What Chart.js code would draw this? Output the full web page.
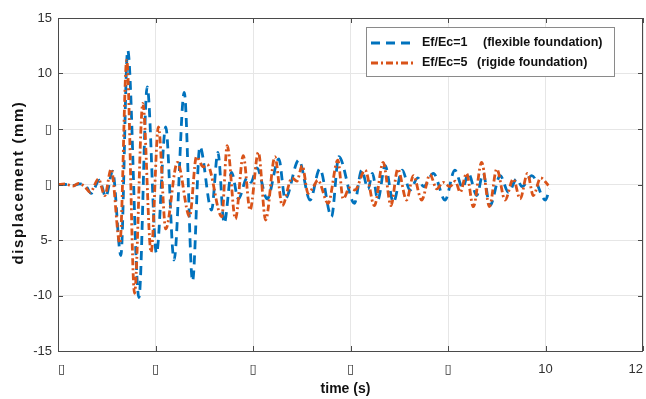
<!DOCTYPE html>
<html>
<head>
<meta charset="utf-8">
<script src="https://cdn.jsdelivr.net/npm/chart.js@4.4.1/dist/chart.umd.min.js"></script>
<style>
html,body{margin:0;padding:0;background:#fff;}
#wrap{width:646px;height:399px;}
</style>
</head>
<body>
<div id="wrap"><canvas id="c" width="646" height="399"></canvas></div>
<script>
// ---- data ----
const seriesNames = ['Ef/Ec=1', 'Ef/Ec=5'];
const seriesNotes = ['(flexible foundation)', '(rigide foundation)'];

// Ef/Ec=1 (flexible foundation): time (s) and displacement (mm)
const flexT = [0, 0.15, 0.30, 0.45, 0.58, 0.68, 0.85, 0.98, 1.12, 1.29, 1.43, 1.66, 1.83, 2.02, 2.21, 2.38, 2.59, 2.76, 2.91, 3.15, 3.28, 3.41, 3.56, 3.70, 3.88, 3.96, 4.08, 4.29, 4.53, 4.66, 4.94, 5.17, 5.37, 5.61, 5.76, 6.08, 6.23, 6.36, 6.45, 6.56, 6.71, 6.88, 7.06, 7.22, 7.38, 7.50, 7.70, 7.94, 8.14, 8.30, 8.42, 8.59, 8.72, 8.86, 9.07, 9.24, 9.41, 9.52, 9.72, 10.00, 10.08];
const flexY = [0, 0.0, -0.1, 0.05, -0.2, -0.8, 0.4, -1.1, 1.2, -6.4, 12.1, -10.2, 8.8, -6.2, 5.2, -6.8, 8.3, -8.7, 3.4, -2.3, 2.9, -3.5, 1.1, -1.3, 0.6, 0.2, 1.5, -1.3, 2.3, -1.3, 2.2, -1.4, 1.4, -2.9, 2.5, -1.7, 1.3, -0.4, 1.0, -1.4, 1.7, -1.6, 1.3, -0.5, 0.6, -0.2, 1.0, -1.4, 1.3, -0.3, 1.0, -1.0, 1.0, -1.9, 0.8, -0.7, 0.5, -0.2, 0.8, -1.4, -0.4];

// Ef/Ec=5 (rigide foundation)
const rigidT = [0, 0.15, 0.30, 0.42, 0.55, 0.66, 0.83, 0.96, 1.09, 1.27, 1.41, 1.57, 1.74, 1.91, 2.06, 2.21, 2.45, 2.70, 2.84, 2.98, 3.06, 3.36, 3.47, 3.64, 3.80, 3.94, 4.11, 4.26, 4.45, 4.60, 4.80, 4.90, 5.01, 5.13, 5.24, 5.33, 5.54, 5.74, 5.85, 5.98, 6.09, 6.30, 6.49, 6.67, 6.83, 6.97, 7.15, 7.29, 7.46, 7.63, 7.77, 7.90, 8.04, 8.15, 8.25, 8.38, 8.52, 8.69, 8.85, 9.00, 9.17, 9.34, 9.48, 9.63, 9.75, 9.90, 10.06];
const rigidY = [0, 0.05, -0.15, 0.1, -0.2, -0.7, 0.5, -1.0, 1.4, -5.3, 11.2, -9.8, 7.3, -6.1, 5.2, -4.0, 2.0, -2.9, 2.5, 1.6, 1.8, -2.9, 3.5, -3.1, 2.6, -2.3, 2.9, -3.2, 2.5, -1.9, 0.6, 0.3, 1.7, -0.8, -0.2, 0.4, -1.7, 2.2, -1.3, -0.3, -0.5, 1.3, -1.9, 2.0, -1.9, 1.4, -1.4, 0.8, -1.4, 0.9, -0.4, 0.2, -0.2, 0.3, -0.7, 1.0, -2.0, 2.0, -2.0, 1.4, -1.4, 0.5, -1.3, 1.0, -1.0, 0.6, -0.1];

// tick labels (as printed in the reference, missing glyphs shown as boxes)
const xTickValues = [0, 2, 4, 6, 8, 10, 12];
const xTickText = ['\u25AF', '\u25AF', '\u25AF', '\u25AF', '\u25AF', '10', '12'];
const yTickValues = [-15, -10, -5, 0, 5, 10, 15];
const yTickText = ['-15', '-10', '5-', '\u25AF', '\u25AF', '10', '15'];

const xTitle = 'time (s)';
const yTitle = 'displacement (mm)';

// ---- chart ----
const FONT = '"Liberation Sans", Arial, "DejaVu Sans", sans-serif';
const toPts = (t, v) => t.map((tt, i) => ({x: tt, y: v[i]}));

const decor = {
  id: 'decor',
  afterDraw(chart) {
    const {ctx, chartArea: a, scales} = chart;
    const xs = scales.x, ys = scales.y;
    ctx.save();
    // box
    ctx.strokeStyle = '#4a4a4a';
    ctx.lineWidth = 1;
    ctx.strokeRect(Math.round(a.left) + 0.5, Math.round(a.top) + 0.5,
                   Math.round(a.right - a.left) - 1, Math.round(a.bottom - a.top));
    // inward ticks
    ctx.beginPath();
    xTickValues.forEach(v => {
      const px = Math.round(xs.getPixelForValue(v)) + 0.5;
      ctx.moveTo(px, a.bottom); ctx.lineTo(px, a.bottom - 5);
      ctx.moveTo(px, a.top); ctx.lineTo(px, a.top + 5);
    });
    yTickValues.forEach(v => {
      const py = Math.round(ys.getPixelForValue(v)) + 0.5;
      ctx.moveTo(a.left, py); ctx.lineTo(a.left + 5, py);
      ctx.moveTo(a.right, py); ctx.lineTo(a.right - 5, py);
    });
    ctx.stroke();

    // axis titles
    ctx.fillStyle = '#111';
    ctx.font = 'bold 14px ' + FONT;
    ctx.textAlign = 'center';
    ctx.textBaseline = 'middle';
    ctx.fillText(xTitle, (a.left + a.right) / 2 - 5, 389);
    ctx.save();
    ctx.translate(19, (a.top + a.bottom) / 2 - 2);
    ctx.rotate(-Math.PI / 2);
    ctx.font = 'bold 15px ' + FONT;
    try { ctx.letterSpacing = '1.6px'; } catch (e) {}
    ctx.fillText(yTitle, 0, 0);
    ctx.restore();

    // legend
    const lx = 366, ly = 27, lw = 248, lh = 49;
    ctx.fillStyle = '#fff';
    ctx.fillRect(lx, ly, lw, lh);
    ctx.strokeStyle = '#8a8a8a';
    ctx.lineWidth = 1;
    ctx.strokeRect(lx + 0.5, ly + 0.5, lw, lh);
    const rows = [43, 63];
    const noteX = [483, 477];
    chart.data.datasets.forEach((ds, i) => {
      const yy = rows[i];
      ctx.save();
      ctx.strokeStyle = ds.borderColor;
      ctx.lineWidth = ds.borderWidth;
      ctx.setLineDash(ds.borderDash);
      ctx.beginPath();
      ctx.moveTo(371, yy); ctx.lineTo(414, yy);
      ctx.stroke();
      ctx.restore();
      ctx.fillStyle = '#111';
      ctx.font = 'bold 12.5px ' + FONT;
      ctx.textAlign = 'left';
      ctx.textBaseline = 'middle';
      ctx.fillText(seriesNames[i], 422, yy);
      ctx.fillText(seriesNotes[i], noteX[i], yy);
    });
    ctx.restore();
  }
};

new Chart(document.getElementById('c'), {
  type: 'line',
  data: {
    datasets: [
      {
        label: seriesNames[0] + ' ' + seriesNotes[0],
        data: toPts(flexT, flexY),
        borderColor: '#0072BD',
        borderWidth: 2.8,
        borderDash: [9, 6],
        pointRadius: 0,
        cubicInterpolationMode: 'monotone',
        fill: false,
        order: 2
      },
      {
        label: seriesNames[1] + ' ' + seriesNotes[1],
        data: toPts(rigidT, rigidY),
        borderColor: '#D95319',
        borderWidth: 2.8,
        borderDash: [7, 3, 2, 3],
        pointRadius: 0,
        cubicInterpolationMode: 'monotone',
        fill: false,
        order: 1
      }
    ]
  },
  options: {
    responsive: false,
    animation: false,
    devicePixelRatio: 1,
    layout: {padding: {left: 0, right: 3, top: 18, bottom: 0}},
    plugins: {legend: {display: false}, tooltip: {enabled: false}},
    scales: {
      x: {
        type: 'linear',
        min: 0, max: 12,
        afterBuildTicks: s => { s.ticks = xTickValues.map(v => ({value: v})); },
        afterFit: s => { s.height = 48; s.paddingLeft = 0; s.paddingRight = 0; },
        grid: {color: '#e6e6e6', drawTicks: false, lineWidth: 1},
        border: {display: false},
        ticks: {
          align: 'inner',
          padding: 11,
          color: '#303030',
          font: {family: FONT, size: 13},
          callback: v => xTickText[xTickValues.indexOf(v)],
          maxRotation: 0, autoSkip: false
        }
      },
      y: {
        type: 'linear',
        min: -15, max: 15,
        afterBuildTicks: s => { s.ticks = yTickValues.map(v => ({value: v})); },
        afterFit: s => { s.width = 58; s.paddingTop = 0; s.paddingBottom = 0; },
        grid: {color: '#e6e6e6', drawTicks: false, lineWidth: 1},
        border: {display: false},
        ticks: {
          padding: 6,
          color: '#303030',
          font: {family: FONT, size: 13},
          callback: v => yTickText[yTickValues.indexOf(v)],
          autoSkip: false
        }
      }
    }
  },
  plugins: [decor]
});
</script>
</body>
</html>
